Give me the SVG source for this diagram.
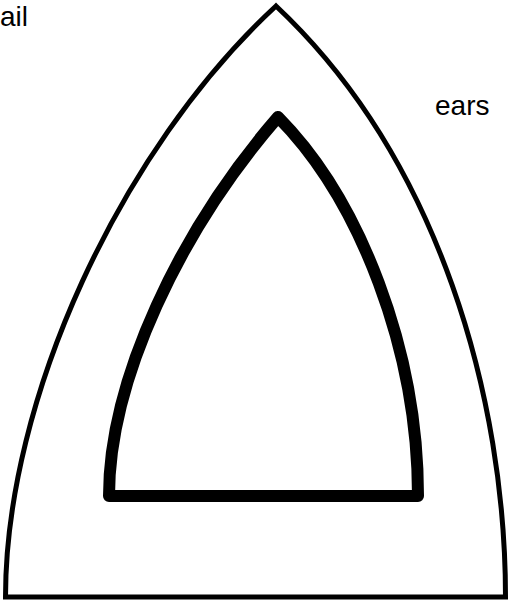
<svg xmlns="http://www.w3.org/2000/svg" width="510" height="602" viewBox="0 0 510 602">
<style>
.lbl{font-family:"Liberation Sans",Arial,sans-serif;font-size:28px;fill:#000}
.outer{fill:none;stroke:#000;stroke-width:5}
.inner{fill:none;stroke:#000;stroke-width:12;stroke-linejoin:round}
</style>
<rect width="510" height="602" fill="#fff"/>
<g id="outer-arch">
<path class="outer" d="M5.5,597 C5.5,400 120,150 276,6 C440,160 505.5,400 505.5,597 Z"/>
</g>
<g id="inner-arch">
<path class="inner" d="M109,496 C109,380 180,230 278,117 C360,200 418,350 418,496 Z"/>
</g>
<g id="label-ail"><text class="lbl" x="0" y="26">ail</text></g>
<g id="label-ears"><text class="lbl" x="435" y="115">ears</text></g>
</svg>
